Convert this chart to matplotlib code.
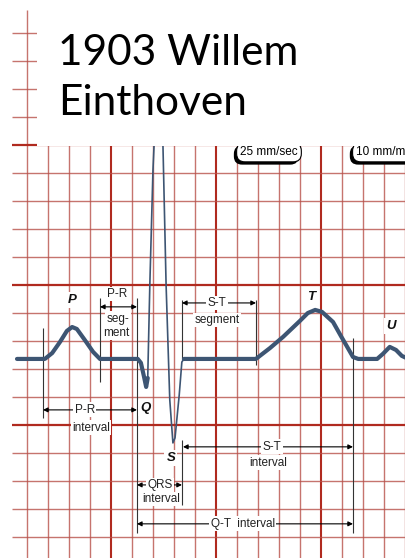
import numpy as np
import matplotlib
matplotlib.use('Agg')
import matplotlib.pyplot as plt
import matplotlib.patheffects as pe
from matplotlib.patches import Rectangle

# ECG trace, time in seconds, amplitude in mV (isoelectric line = 0)
wave_t = [0.021, 0.074, 0.088, 0.103, 0.116, 0.126, 0.135, 0.150, 0.166, 0.179,
          0.251, 0.257, 0.263, 0.267, 0.270]
wave_v = [0.000, 0.000, 0.021, 0.061, 0.100, 0.114, 0.107, 0.068, 0.025, 0.000,
          0.000, -0.014, -0.064, -0.100, -0.068]
qrs_t = [0.270, 0.274, 0.280, 0.291, 0.299, 0.305, 0.312, 0.318, 0.322, 0.330, 0.335, 0.339]
qrs_v = [-0.068, 0.264, 0.675, 1.139, 0.764, 0.264, -0.146, -0.300, -0.282, -0.129, -0.011, 0.000]
tail_t = [0.339, 0.476, 0.503, 0.528, 0.560, 0.575, 0.589, 0.602, 0.623, 0.638, 0.650, 0.661,
          0.671, 0.707, 0.718, 0.731, 0.743, 0.754, 0.762]
tail_v = [0.000, 0.000, 0.039, 0.079, 0.136, 0.164, 0.175, 0.168, 0.132, 0.082, 0.043, 0.007,
          0.000, 0.000, 0.018, 0.043, 0.032, 0.011, 0.004]

# wave boundaries (s)
p_start = 0.0705
pr_seg_start = 0.179
qrs_start = 0.2495
qrs_end = 0.3352
st_end = 0.4762
t_end = 0.661

wave_names = ['P', 'Q', 'S', 'T', 'U']
wave_label_t = [0.126, 0.265, 0.314, 0.581, 0.733]
wave_label_v = [0.211, -0.175, -0.354, 0.221, 0.118]

title_lines = ['1903 Willem', 'Einthoven']
pill_texts = ['25 mm/sec', '10 mm/mV']

# paper grid: 0.04 s / 0.1 mV per small box
T_MIN, T_MAX = -0.0114, 0.762
V_MIN, V_MAX = -0.711, 1.282
grid_t = np.arange(0, 20) * 0.04
grid_k = np.arange(-4, 15)
grid_v = 0.764 - 0.1 * grid_k

trace_col = '#3d5573'
minor_col = '#b8514a'
major_col = '#b02a1f'

fig = plt.figure(figsize=(4.06, 5.58), dpi=100)
ax = fig.add_axes([0, 0, 1, 1])
ax.set_xlim(T_MIN, T_MAX)
ax.set_ylim(V_MIN, V_MAX)
ax.axis('off')

left_t = 0.0114
top_v = 1.246
for i, t in enumerate(grid_t):
    if t < left_t:
        continue
    major = i % 5 == 0
    ax.vlines(t, V_MIN, top_v, color=major_col if major else minor_col,
              lw=1.5 if major else 1.0, alpha=1 if major else 0.8, zorder=1)
for k, v in zip(grid_k, grid_v):
    major = k % 5 == 0
    ax.hlines(v, left_t, T_MAX, color=major_col if major else minor_col,
              lw=1.6 if major else 1.0, alpha=1 if major else 0.8, zorder=1)

# trace
ax.plot(wave_t, wave_v, color=trace_col, lw=3.0, solid_capstyle='round',
        solid_joinstyle='round', zorder=4)
ax.plot(qrs_t, qrs_v, color=trace_col, lw=1.2, solid_joinstyle='round', zorder=4)
ax.plot(tail_t, tail_v, color=trace_col, lw=3.0, solid_capstyle='round',
        solid_joinstyle='round', zorder=4)

# marker lines
mk = dict(color='#333333', lw=0.8, zorder=3)
ax.vlines(p_start, -0.211, 0.111, **mk)
ax.vlines(pr_seg_start, -0.082, 0.218, **mk)
ax.vlines(qrs_start, -0.621, 0.218, **mk)
ax.vlines(qrs_end, 0.0, 0.211, **mk)
ax.vlines(qrs_end, -0.521, -0.289, **mk)
ax.vlines(st_end, -0.021, 0.211, **mk)
ax.vlines(t_end, -0.621, 0.075, **mk)


def arrow(t0, t1, v):
    ax.annotate('', xy=(t1, v), xytext=(t0, v), zorder=5,
                arrowprops=dict(arrowstyle='<|-|>', color='black', lw=0.8,
                                mutation_scale=7, shrinkA=0, shrinkB=0))


lab_font = ['Liberation Sans', 'DejaVu Sans']
wbox = dict(boxstyle='square,pad=0.12', fc='white', ec='none')


def label(t, v, s):
    ax.text(t, v, s, ha='center', va='center', fontsize=8.5, family=lab_font,
            color='#222222', bbox=wbox, zorder=6)


arrow(p_start, qrs_start, -0.182)
label(0.150, -0.182, 'P-R')
label(0.162, -0.246, 'interval')

arrow(pr_seg_start, qrs_start, 0.186)
label(0.211, 0.232, 'P-R')
label(0.213, 0.143, 'seg-')
label(0.211, 0.093, 'ment')

arrow(qrs_end, st_end, 0.200)
label(0.402, 0.200, 'S-T')
label(0.402, 0.139, 'segment')

arrow(qrs_start, qrs_end, -0.450)
label(0.293, -0.450, 'QRS')
label(0.295, -0.500, 'interval')

arrow(qrs_end + 0.002, t_end, -0.314)
label(0.507, -0.314, 'S-T')
label(0.499, -0.371, 'interval')

arrow(qrs_start, t_end, -0.589)
label(0.451, -0.589, 'Q-T  interval')

for name, t, v in zip(wave_names, wave_label_t, wave_label_v):
    ax.text(t, v, name, ha='center', va='center', fontsize=9.5, fontweight='bold',
            fontstyle='italic', family=lab_font, color='#111111',
            bbox=dict(boxstyle='square,pad=0.15', fc='white', ec='none'), zorder=6)

# speed / gain pills with dark shadow
pill_pos = [(0.501, 'center'), (0.667, 'left')]
for s, (t, ha) in zip(pill_texts, pill_pos):
    txt = ax.text(t, 0.738, s, ha=ha, va='center', fontsize=8.5, family=lab_font,
                  color='black', zorder=7,
                  bbox=dict(boxstyle='round,pad=0.3,rounding_size=0.7', fc='white',
                            ec='black', lw=0.8))
    txt.get_bbox_patch().set_path_effects(
        [pe.SimplePatchShadow(offset=(-2, -2), shadow_rgbFace='black', alpha=1.0),
         pe.Normal()])

# title panel
ax.add_patch(Rectangle((37 / 406, 1 - 146 / 558), 1 - 37 / 406, 146 / 558,
                       transform=ax.transAxes, fc='white', ec='none', zorder=10))
ax.text(58 / 406, 1 - 65 / 558, title_lines[0], transform=ax.transAxes, fontsize=30.5,
        family=['Lato', 'DejaVu Sans'], va='baseline', ha='left', zorder=11)
ax.text(58 / 406, 1 - 115 / 558, title_lines[1], transform=ax.transAxes, fontsize=30.5,
        family=['Lato', 'DejaVu Sans'], va='baseline', ha='left', zorder=11)

fig.savefig('out.png', dpi=100)
